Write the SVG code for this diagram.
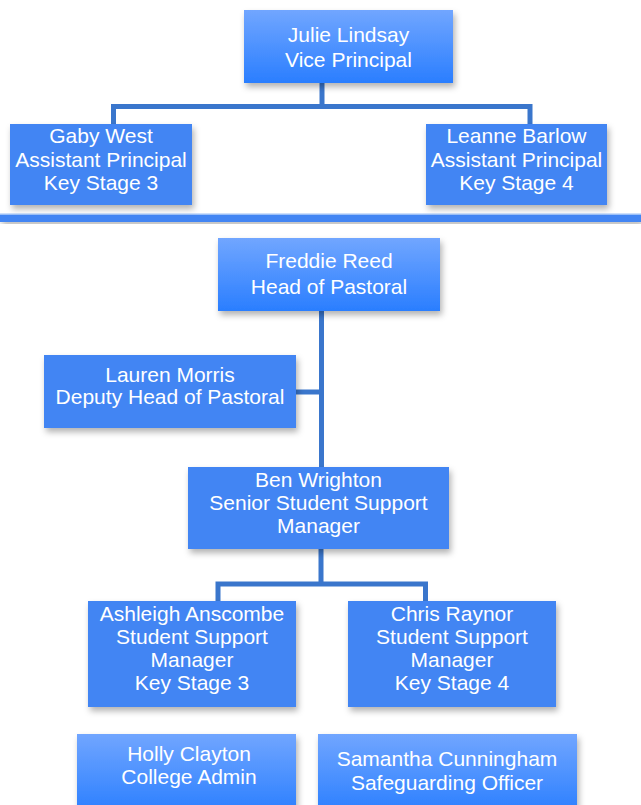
<svg xmlns="http://www.w3.org/2000/svg" width="641" height="805" viewBox="0 0 641 805">
<style>
.t{font-family:"Liberation Sans",Arial,sans-serif;font-size:21px;fill:#ffffff;text-anchor:middle}
.flat{fill:#4285f3}
.grad{fill:url(#g)}
.c{stroke:#3a76cc;stroke-width:5;fill:none;stroke-linecap:square}
</style>
<defs>
<linearGradient id="g" x1="0" y1="0" x2="0" y2="1">
<stop offset="0" stop-color="#71a6ff"/>
<stop offset="1" stop-color="#2a7eff"/>
</linearGradient>
<filter id="sh" x="-10%" y="-10%" width="125%" height="135%">
<feDropShadow dx="2" dy="4" stdDeviation="3" flood-color="#000" flood-opacity="0.3"/>
</filter>
</defs>
<rect width="641" height="805" fill="#ffffff"/>
<g id="connectors">
<path class="c" d="M322 83 V106.5 M113.5 106.5 H530 M113.5 106.5 V124 M530 106.5 V124"/>
<path class="c" d="M321.5 311 V467 M296 392 H321.5"/>
<path class="c" d="M321 549 V584 M218 584 H425.5 M218 584 V601 M425.5 584 V601"/>
</g>
<g id="separator">
<rect x="0" y="215" width="641" height="7" fill="#4285f3" filter="url(#sh)"/>
<rect x="0" y="213.5" width="641" height="1.5" fill="#9cc0f7"/>
</g>
<g id="julie">
<rect class="grad" x="244" y="10" width="209" height="73" filter="url(#sh)"/>
<text class="t" x="348.5" y="42">Julie Lindsay</text>
<text class="t" x="348.5" y="67">Vice Principal</text>
</g>
<g id="gaby">
<rect class="flat" x="10" y="124" width="182" height="81" filter="url(#sh)"/>
<text class="t" x="101" y="143">Gaby West</text>
<text class="t" x="101" y="167">Assistant Principal</text>
<text class="t" x="101" y="190">Key Stage 3</text>
</g>
<g id="leanne">
<rect class="flat" x="426" y="124" width="181" height="81" filter="url(#sh)"/>
<text class="t" x="516.5" y="143">Leanne Barlow</text>
<text class="t" x="516.5" y="167">Assistant Principal</text>
<text class="t" x="516.5" y="190">Key Stage 4</text>
</g>
<g id="freddie">
<rect class="grad" x="218" y="238" width="222" height="73" filter="url(#sh)"/>
<text class="t" x="329" y="268">Freddie Reed</text>
<text class="t" x="329" y="294">Head of Pastoral</text>
</g>
<g id="lauren">
<rect class="flat" x="44" y="355" width="252" height="73" filter="url(#sh)"/>
<text class="t" x="170" y="382">Lauren Morris</text>
<text class="t" x="170" y="404">Deputy Head of Pastoral</text>
</g>
<g id="ben">
<rect class="flat" x="188" y="467" width="261" height="82" filter="url(#sh)"/>
<text class="t" x="318.5" y="487">Ben Wrighton</text>
<text class="t" x="318.5" y="510">Senior Student Support</text>
<text class="t" x="318.5" y="533">Manager</text>
</g>
<g id="ashleigh">
<rect class="flat" x="88" y="601" width="208" height="106" filter="url(#sh)"/>
<text class="t" x="192" y="621">Ashleigh Anscombe</text>
<text class="t" x="192" y="644">Student Support</text>
<text class="t" x="192" y="667">Manager</text>
<text class="t" x="192" y="690">Key Stage 3</text>
</g>
<g id="chris">
<rect class="flat" x="348" y="601" width="208" height="106" filter="url(#sh)"/>
<text class="t" x="452" y="621">Chris Raynor</text>
<text class="t" x="452" y="644">Student Support</text>
<text class="t" x="452" y="667">Manager</text>
<text class="t" x="452" y="690">Key Stage 4</text>
</g>
<g id="holly">
<rect class="grad" x="77" y="734" width="219" height="80" filter="url(#sh)"/>
<text class="t" x="189" y="761">Holly Clayton</text>
<text class="t" x="189" y="784">College Admin</text>
</g>
<g id="samantha">
<rect class="grad" x="318" y="734" width="259" height="80" filter="url(#sh)"/>
<text class="t" x="447" y="766">Samantha Cunningham</text>
<text class="t" x="447" y="790">Safeguarding Officer</text>
</g>
</svg>
